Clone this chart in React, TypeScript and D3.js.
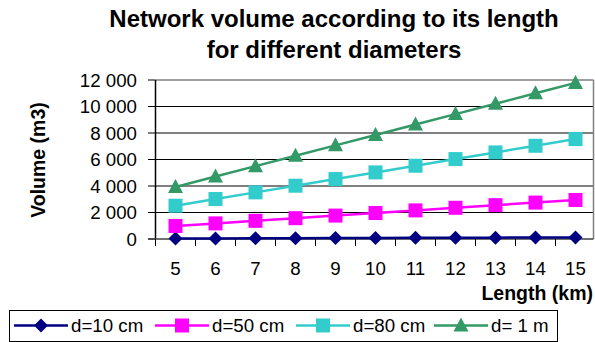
import React from "react";
import * as d3 from "d3";

const lengths = [5, 6, 7, 8, 9, 10, 11, 12, 13, 14, 15];
const d10 = [39, 47, 55, 63, 71, 79, 86, 94, 102, 110, 118];
const d50 = [982, 1178, 1374, 1571, 1767, 1963, 2160, 2356, 2553, 2749, 2945];
const d80 = [2513, 3016, 3519, 4021, 4524, 5027, 5529, 6032, 6535, 7037, 7540];
const d100 = [3927, 4712, 5498, 6283, 7069, 7854, 8639, 9425, 10210, 10996, 11781];
const yTicks = [0, 2000, 4000, 6000, 8000, 10000, 12000];
const seriesNames = ["d=10 cm", "d=50 cm", "d=80 cm", "d= 1 m"];
const seriesValues = [d10, d50, d80, d100];
const seriesColors = ["#000080", "#FF00FF", "#33CCCC", "#339966"];
const seriesMarkers = ["diamond", "square", "square", "triangle"];

const W = 595;
const H = 342;
const left = 155.5;
const right = 595.5;
const top = 80;
const bottom = 239;
const FONT = "'Liberation Sans', Arial, sans-serif";

const fmt = (v: number) => {
  const s = String(v);
  return s.length > 3 ? s.slice(0, s.length - 3) + " " + s.slice(s.length - 3) : s;
};

function Marker({ kind, x, y, color }: { kind: string; x: number; y: number; color: string }) {
  if (kind === "diamond") {
    const r = 7;
    return <path d={`M${x},${y - r}L${x + r},${y}L${x},${y + r}L${x - r},${y}Z`} fill={color} />;
  }
  if (kind === "square") {
    const r = 7;
    return <rect x={x - r} y={y - r} width={2 * r} height={2 * r} fill={color} />;
  }
  const r = 7.5;
  return <path d={`M${x},${y - 8}L${x + r},${y + 6}L${x - r},${y + 6}Z`} fill={color} />;
}

export default function App() {
  const x = d3.scaleBand<number>().domain(lengths).range([left, right]).padding(0);
  const y = d3.scaleLinear().domain([0, 12000]).range([bottom, top]);
  const cx = (l: number) => (x(l) as number) + x.bandwidth() / 2;
  const line = d3
    .line<number>()
    .x((_, i) => cx(lengths[i]))
    .y((v) => y(v));

  const boundaries = lengths.map((l) => x(l) as number).concat([right]);
  const legendX = [14, 155, 296, 434];

  return (
    <svg
      width={W}
      height={H}
      style={{ position: "absolute", left: 0, top: 0, background: "#fff" }}
      fontFamily={FONT}
    >
      <rect x={0} y={0} width={W} height={H} fill="#fff" />
      <text x={334} y={27} textAnchor="middle" fontSize={24} fontWeight="bold">
        Network volume according to its length
      </text>
      <text x={334} y={58} textAnchor="middle" fontSize={24} fontWeight="bold">
        for different diameters
      </text>

      {/* gridlines */}
      {yTicks.slice(1, -1).map((t) => (
        <line key={t} x1={left} x2={593.5} y1={y(t)} y2={y(t)} stroke="#000" strokeWidth={1} />
      ))}
      <line x1={left} x2={593.5} y1={y(12000)} y2={y(12000)} stroke="#808080" strokeWidth={1.5} />
      <line x1={593.5} x2={593.5} y1={y(12000)} y2={bottom} stroke="#808080" strokeWidth={1.5} />

      {/* y axis */}
      <line x1={left} x2={left} y1={top} y2={bottom} stroke="#000" strokeWidth={1.5} />
      {yTicks.map((t) => (
        <g key={t}>
          <line x1={148} x2={left} y1={y(t)} y2={y(t)} stroke="#000" strokeWidth={1} />
          <text x={137} y={y(t) + 6.7} textAnchor="end" fontSize={18.7}>
            {fmt(t)}
          </text>
        </g>
      ))}

      {/* x axis */}
      <line x1={148} x2={593.5} y1={bottom} y2={bottom} stroke="#404040" strokeWidth={1.5} />
      {boundaries.map((b, i) => (
        <line key={i} x1={b} x2={b} y1={bottom} y2={bottom + 7} stroke="#000" strokeWidth={1} />
      ))}
      {lengths.map((l) => (
        <text key={l} x={cx(l)} y={275} textAnchor="middle" fontSize={18.7}>
          {l}
        </text>
      ))}

      <text
        transform={`translate(45,160) rotate(-90)`}
        textAnchor="middle"
        fontSize={19.5}
        fontWeight="bold"
      >
        Volume (m3)
      </text>
      <text x={593} y={300} textAnchor="end" fontSize={19.5} fontWeight="bold">
        Length (km)
      </text>

      {/* series */}
      {seriesValues.map((vals, si) => (
        <g key={si}>
          <path d={line(vals) as string} fill="none" stroke={seriesColors[si]} strokeWidth={2.5} />
          {vals.map((v, i) => (
            <Marker key={i} kind={seriesMarkers[si]} x={cx(lengths[i])} y={y(v)} color={seriesColors[si]} />
          ))}
        </g>
      ))}

      {/* legend */}
      <rect x={9.5} y={310.5} width={548} height={31} fill="#fff" stroke="#000" strokeWidth={1} />
      {seriesNames.map((n, i) => (
        <g key={n}>
          <line
            x1={legendX[i]}
            x2={legendX[i] + 54}
            y1={325.5}
            y2={325.5}
            stroke={seriesColors[i]}
            strokeWidth={2.5}
          />
          <Marker kind={seriesMarkers[i]} x={legendX[i] + 27} y={325.5} color={seriesColors[i]} />
          <text x={legendX[i] + 57} y={332} fontSize={18.7}>
            {n}
          </text>
        </g>
      ))}
    </svg>
  );
}
